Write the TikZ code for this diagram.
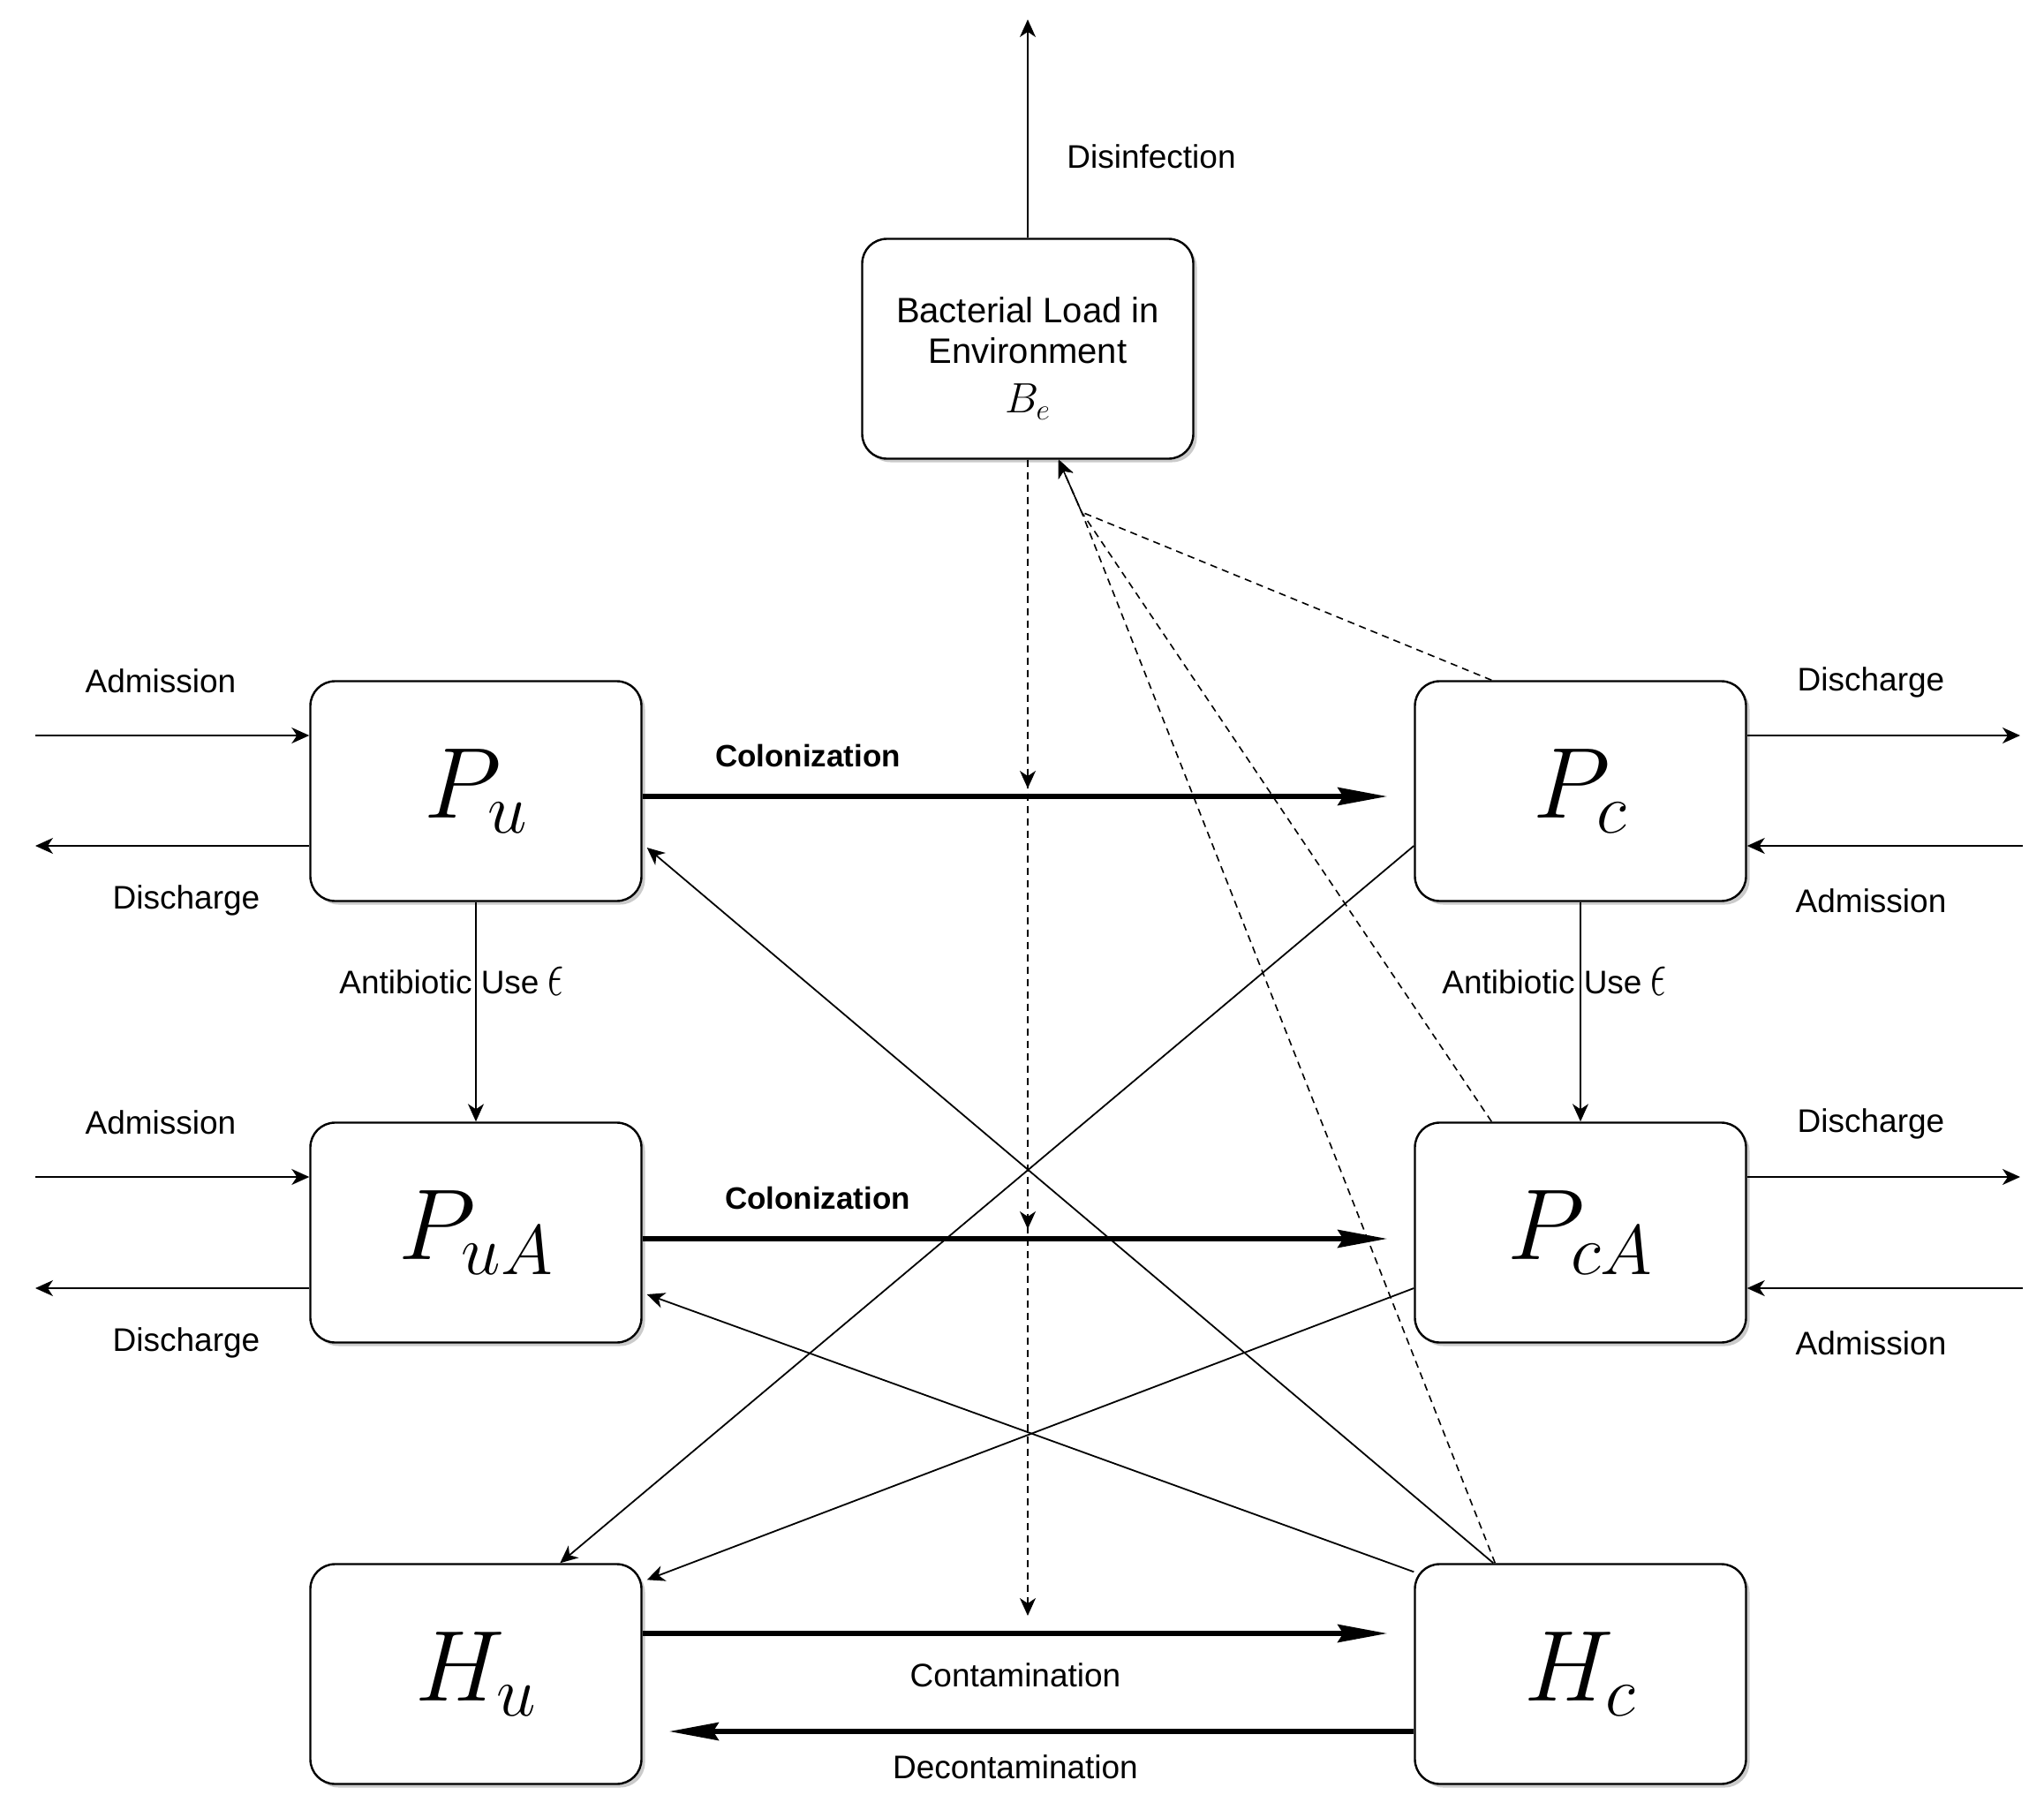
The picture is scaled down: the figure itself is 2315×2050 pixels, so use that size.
\RequirePackage{fix-cm}
\documentclass[tikz,border=0pt]{standalone}
\usepackage{fontspec}
\usepackage{graphicx}
\setmainfont{Liberation Sans}
\usetikzlibrary{arrows.meta,shadows}
\newcommand{\bigeps}{\raisebox{-1pt}{\scalebox{0.75}[1.25]{\fontsize{30}{30}\selectfont$\epsilon$}}}
\begin{document}
\begin{tikzpicture}[x=0.5pt,y=-0.5pt,
  box/.style={draw, line width=1.2pt, rounded corners=14pt, fill=white,
    minimum width=187.5pt, minimum height=124.5pt, inner sep=0pt,
    drop shadow={shadow xshift=2pt, shadow yshift=-2pt, fill=black!45, opacity=0.45}},
  bigm/.style={font=\fontsize{57}{60}\selectfont},
  tarrow/.style={line width=0.9pt, -{Stealth[length=10pt,width=9pt,inset=3pt]}},
  tharrow/.style={line width=3pt, -{Stealth[length=28pt,width=10pt,inset=3pt]}},
  dsh/.style={line width=0.8pt, dash pattern=on 4pt off 3pt, -{Stealth[length=10pt,width=9pt,inset=3pt]}},
  lbl/.style={font=\fontsize{18.5}{22}\selectfont, inner sep=0pt},
  blbl/.style={font=\fontsize{17.5}{21}\selectfont\bfseries, inner sep=0pt}
]
\useasboundingbox (0,0) rectangle (2315,2050);
\fill[white] (0,0) rectangle (2315,2050);

% environment box
\node[box] (env) at (1164,395) {};
\node[align=center, inner sep=0pt, font=\fontsize{20}{23}\selectfont] (envt) at (1164,406)
  {Bacterial Load in\\Environment\\[5pt]{\fontsize{24}{24}\selectfont$B_e$}};

% compartments
\node[box, bigm] (Pu)  at (539,896)  {$P_u$};
\node[box, bigm] (Pc)  at (1790,896) {$P_c$};
\node[box, bigm] (PuA) at (539,1396) {$P_{uA}$};
\node[box, bigm] (PcA) at (1790,1396) {$P_{cA}$};
\node[box, bigm] (Hu)  at (539,1896) {$H_u$};
\node[box, bigm] (Hc)  at (1790,1896) {$H_c$};

% free ends
\coordinate (top) at (1164,22);
\coordinate (inPu) at (40,833);
\coordinate (outPu) at (40,958);
\coordinate (inPuA) at (40,1333);
\coordinate (outPuA) at (40,1459);
\coordinate (outPc) at (2288,833);
\coordinate (inPc) at (2291,958);
\coordinate (outPcA) at (2288,1333);
\coordinate (inPcA) at (2291,1459);
\coordinate (d1) at (1164,893);
\coordinate (d2) at (1164,1392);
\coordinate (d3) at (1164,1830);
\coordinate (m) at (1225,580);

% disinfection
\draw[tarrow] (env.north) -- (top);
\node[lbl] (ldis) at (1304,177) {Disinfection};

% admissions / discharges
\draw[tarrow] (inPu) -- ([yshift=31.5pt]Pu.west);
\draw[tarrow] ([yshift=-31pt]Pu.west) -- (outPu);
\draw[tarrow] (inPuA) -- ([yshift=31.5pt]PuA.west);
\draw[tarrow] ([yshift=-31.5pt]PuA.west) -- (outPuA);
\draw[tarrow] ([yshift=31.5pt]Pc.east) -- (outPc);
\draw[tarrow] (inPc) -- ([yshift=-31pt]Pc.east);
\draw[tarrow] ([yshift=31.5pt]PcA.east) -- (outPcA);
\draw[tarrow] (inPcA) -- ([yshift=-31.5pt]PcA.east);

\node[lbl] (l1) at (182,771) {Admission};
\node[lbl] (l2) at (211,1020) {Discharge};
\node[lbl] (l3) at (182,1271) {Admission};
\node[lbl] (l4) at (211,1521) {Discharge};
\node[lbl] (l5) at (2119,773) {Discharge};
\node[lbl] (l6) at (2119,1020) {Admission};
\node[lbl] (l7) at (2119,1273) {Discharge};
\node[lbl] (l8) at (2119,1521) {Admission};

% antibiotic use
\draw[tarrow] (Pu.south) -- (PuA.north);
\draw[tarrow] (Pc.south) -- (PcA.north);
\node[lbl, anchor=base west] (ab1) at (384,1125) {Antibiotic Use \bigeps};
\node[lbl, anchor=base west] (ab2) at (1633,1125) {Antibiotic Use \bigeps};

% diagonal solid transfers
\draw[tarrow] ([yshift=-31pt]Pc.west) -- ([xshift=142pt]Hu.north west);
\draw[tarrow] ([yshift=-31.5pt]PcA.west) -- ([xshift=2.5pt,yshift=-9.5pt]Hu.north east);
\draw[tarrow] ([xshift=45pt]Hc.north west) -- ([xshift=2.5pt,yshift=-32pt]Pu.east);
\draw[tarrow] ([yshift=-5pt]Hc.north west) -- ([xshift=2.5pt,yshift=-35pt]PuA.east);

% environment contributions (dashed)
\draw[dsh] ([xshift=44pt]Pc.north west) -- (m) -- ([xshift=17.5pt]env.south);
\draw[dsh] ([xshift=44pt]PcA.north west) -- (m) -- ([xshift=17.5pt]env.south);
\draw[dsh] ([xshift=46pt]Hc.north west) -- (m) -- ([xshift=17.5pt]env.south);

% environment to colonization / contamination (dashed)
\draw[dsh] (env.south) -- (d1);
\draw[dsh] (env.south) -- (d2);
\draw[dsh] (env.south) -- (d3);

% colonization
\draw[tharrow] ([yshift=-3pt]Pu.east) -- ([xshift=-15pt,yshift=-3pt]Pc.west);
\draw[tharrow] ([yshift=-3.5pt]PuA.east) -- ([xshift=-15pt,yshift=-3.5pt]PcA.west);
\node[blbl] (c1) at (915,856) {Colonization};
\node[blbl] (c2) at (926,1357) {Colonization};

% contamination / decontamination
\draw[tharrow] ([yshift=23pt]Hu.east) -- ([xshift=-15pt,yshift=23pt]Hc.west);
\draw[tharrow] ([yshift=-32.5pt]Hc.west) -- ([xshift=15pt,yshift=-32.5pt]Hu.east);
\node[lbl] (ct) at (1150,1897) {Contamination};
\node[lbl] (dct) at (1150,2001) {Decontamination};
\end{tikzpicture}
\end{document}
